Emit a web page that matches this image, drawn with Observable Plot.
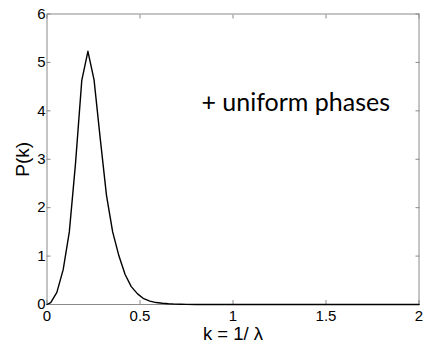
<!DOCTYPE html>
<html>
<head>
<meta charset="utf-8">
<script src="https://cdn.jsdelivr.net/npm/d3@7"></script>
<script src="https://cdn.jsdelivr.net/npm/@observablehq/plot@0.6"></script>
<style>
  html, body { margin: 0; padding: 0; background: #fff; }
  #chart svg { display: block; }
</style>
</head>
<body>
<div id="chart"></div>
<script>
const kValues = [0, 0.02, 0.053, 0.087, 0.12, 0.153, 0.187, 0.22, 0.253, 0.287, 0.32, 0.353, 0.387, 0.42, 0.453, 0.487, 0.52, 0.553, 0.587, 0.62, 0.653, 0.687, 0.72, 0.75, 0.8, 1.0, 1.5, 2.0];
const pValues = [0, 0.04, 0.25, 0.72, 1.5, 2.9, 4.63, 5.23, 4.64, 3.4, 2.25, 1.5, 1.0, 0.62, 0.37, 0.22, 0.12, 0.07, 0.04, 0.025, 0.015, 0.008, 0.004, 0.002, 0, 0, 0, 0];
const xTicks = [0, 0.5, 1, 1.5, 2];
const yTicks = [0, 1, 2, 3, 4, 5, 6];
const xLabel = "k = 1/ λ";
const yLabel = "P(k)";
const annotation = "+ uniform phases";

const data = kValues.map((k, i) => ({k, p: pValues[i]}));
const axisColor = "#8a8a8a";
const tickFont = "Liberation Sans, Arial, sans-serif";

const chart = Plot.plot({
  width: 424,
  height: 344,
  marginLeft: 46.5,
  marginRight: 5.5,
  marginTop: 13.5,
  marginBottom: 40,
  style: {fontFamily: tickFont, fontSize: "15px", color: "#000", background: "#fff"},
  x: {domain: [0, 2]},
  y: {domain: [0, 6]},
  marks: [
    Plot.frame({stroke: axisColor, strokeWidth: 1}),
    Plot.axisX(xTicks, {anchor: "bottom", tickSize: -4, tickPadding: 10, stroke: axisColor, fill: "#000", label: null, fontSize: 15, fontFamily: tickFont, tickFormat: d => String(d)}),
    Plot.axisX(xTicks, {anchor: "top", tickSize: -4, text: null, stroke: axisColor, label: null}),
    Plot.axisY(yTicks, {anchor: "left", tickSize: -4, tickPadding: 5.5, stroke: axisColor, fill: "#000", label: null, fontSize: 15, fontFamily: tickFont}),
    Plot.axisY(yTicks, {anchor: "right", tickSize: -4, text: null, stroke: axisColor, label: null}),
    Plot.line(data, {x: "k", y: "p", stroke: "#000", strokeWidth: 1.4}),
    Plot.text([yLabel], {text: d => d, frameAnchor: "left", textAnchor: "middle", lineAnchor: "middle", dx: -24, rotate: -90, fontSize: 19, fontFamily: tickFont, fill: "#000"}),
    Plot.text([xLabel], {text: d => d, frameAnchor: "bottom", textAnchor: "middle", lineAnchor: "middle", dy: 29.5, fontSize: 18.5, fontFamily: tickFont, fill: "#000"}),
    Plot.text([annotation], {text: d => d, x: () => 0.83, y: () => 3.99, textAnchor: "start", lineAnchor: "bottom", fontSize: 25, fontFamily: "Lato, sans-serif", fill: "#000"})
  ]
});
document.getElementById("chart").appendChild(chart);
</script>
</body>
</html>
